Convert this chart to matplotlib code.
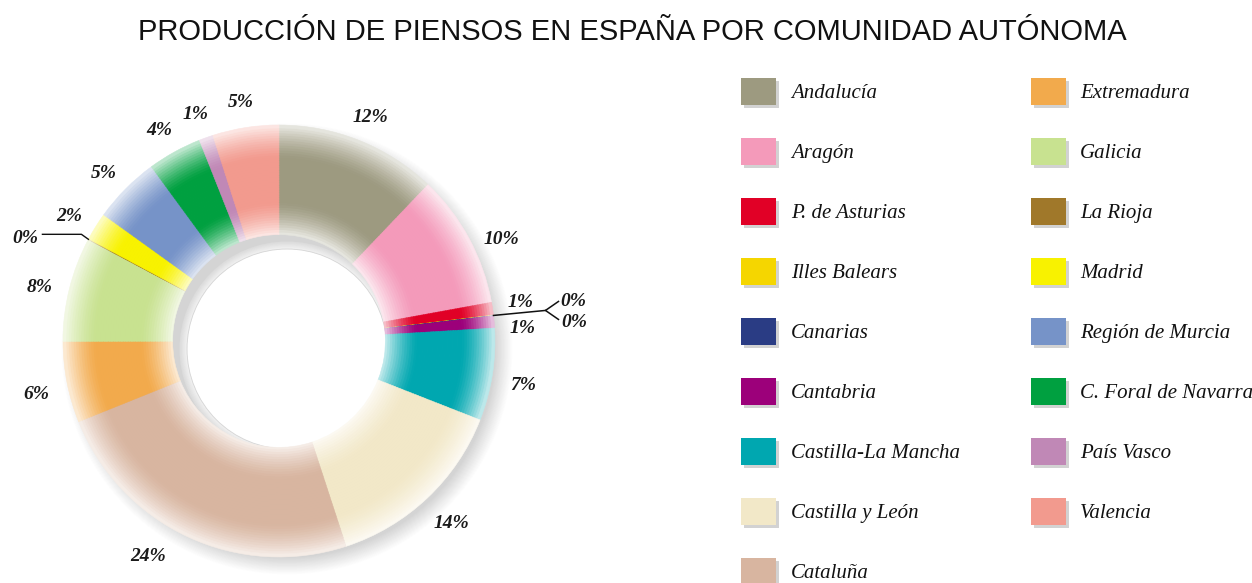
import matplotlib
matplotlib.use("Agg")
import matplotlib.pyplot as plt
from matplotlib.patches import Circle, Rectangle
from matplotlib.colors import to_rgb
import numpy as np

# ---------------- data ----------------
regions = ["Andalucía", "Aragón", "P. de Asturias", "Illes Balears", "Canarias",
           "Cantabria", "Castilla-La Mancha", "Castilla y León", "Cataluña",
           "Extremadura", "Galicia", "La Rioja", "Madrid", "Región de Murcia",
           "C. Foral de Navarra", "País Vasco", "Valencia"]
values = [12.1, 10.0, 0.95, 0.03, 0.03, 0.9, 6.9, 14.0, 23.9,
          6.05, 7.8, 0.05, 2.1, 5.0, 4.05, 1.05, 4.95]
pct_labels = ["12%", "10%", "1%", "0%", "0%", "1%", "7%", "14%", "24%",
              "6%", "8%", "0%", "2%", "5%", "4%", "1%", "5%"]
colors = ["#9d9a80", "#f49aba", "#e10026", "#f5d600", "#2a3c84", "#9c007a",
          "#00a7b0", "#f2e8c8", "#d8b5a0", "#f2aa4c", "#c8e290", "#a0782a",
          "#f8f200", "#7693c8", "#00a040", "#c088b6", "#f29a8e"]
title = "PRODUCCIÓN DE PIENSOS EN ESPAÑA POR COMUNIDAD AUTÓNOMA"

# ---------------- layout ----------------
W, H = 1252, 583
fig = plt.figure(figsize=(W / 100, H / 100), dpi=100)
ax = fig.add_axes([0, 0, 1, 1])

def py(y):  # pixel-from-top -> data y
    return H - y

cx, cy = 279, py(341)
R_out, R_in = 216, 107

# ---------------- shadow (painter's discs, outside-in) ----------------
scx, scy = cx + 8, cy - 8
for r in np.arange(226, 99, -0.75):
    if r <= 108:
        b = 0.955 - (r - 100) / 8 * 0.10
    elif r < 208:
        b = 0.83
    else:
        b = 0.83 + (r - 208) / 18 * 0.17
    b = min(max(b, 0.0), 1.0)
    ax.add_patch(Circle((scx, scy), r, facecolor=(b, b, b),
                        edgecolor="none", zorder=1))
ax.add_patch(Circle((scx, scy), 99.6, facecolor="white", edgecolor="none", zorder=1))
ax.add_patch(Circle((scx, scy), 100, facecolor="none", edgecolor="#d6d6d6",
                    lw=0.6, zorder=1))

# ---------------- gradient donut ----------------
def whiteness(t):
    w_in = max(0.0, 1 - t / 0.30) ** 1.4
    w_out = max(0.0, 1 - (1 - t) / 0.30) ** 1.4
    return 0.78 * max(w_in, w_out)

nr = 44
dr = (R_out - R_in) / nr
base = [np.array(to_rgb(c)) for c in colors]
for k in range(nr):
    t = (k + 0.5) / nr
    w = whiteness(t)
    cols = [tuple(c * (1 - w) + w) for c in base]
    rad = R_in + (k + 1) * dr
    wedges, _ = ax.pie(values, colors=cols, radius=rad, startangle=90,
                       counterclock=False, center=(cx, cy), frame=True,
                       wedgeprops=dict(width=dr + 0.6, linewidth=0.4))
    for wd in wedges:
        wd.set_edgecolor(wd.get_facecolor())
        wd.set_zorder(2)

# ---------------- percentage labels ----------------
total = sum(values)
cum = np.cumsum([0] + values)
lab_font = dict(family="Liberation Serif", weight="bold", style="italic",
                fontsize=14, color="#1a1a1a", zorder=5)

def pt(theta_deg, rad):
    th = np.radians(theta_deg)
    return cx + rad * np.sin(th), cy + rad * np.cos(th)

angle_tweak = {1: 2.5, 7: -1.0, 8: 7.0}
label_drop = 4
special = {2, 3, 4, 5, 11}
for i, lab in enumerate(pct_labels):
    if i in special:
        continue
    mid = 360 * (cum[i] + cum[i + 1]) / 2 / total + angle_tweak.get(i, 0.0)
    x, y = pt(mid, 247)
    ax.text(x, y - label_drop, lab, ha="center", va="center_baseline", **lab_font)

# east cluster (Asturias, Baleares, Canarias, Cantabria)
a_mid = 360 * (cum[3] + cum[5]) / 2 / total
ax0, ay0 = pt(a_mid, R_out)
ax.plot([ax0, ax0 + 52, ax0 + 65], [ay0, ay0 + 5, ay0 + 14], color="#111", lw=1.1, zorder=5)
ax.plot([ax0 + 52, ax0 + 65], [ay0 + 5, ay0 - 4], color="#111", lw=1.1, zorder=5)
ax.text(ax0 + 27, ay0 + 15, pct_labels[2], ha="center", va="center_baseline", **lab_font)
ax.text(ax0 + 29, ay0 - 11, pct_labels[5], ha="center", va="center_baseline", **lab_font)
ax.text(ax0 + 80, ay0 + 16, pct_labels[3], ha="center", va="center_baseline", **lab_font)
ax.text(ax0 + 81, ay0 - 5, pct_labels[4], ha="center", va="center_baseline", **lab_font)

# west (La Rioja)
r_mid = 360 * (cum[11] + cum[12]) / 2 / total
wx0, wy0 = pt(r_mid, R_out)
ax.plot([wx0, wx0 - 7, wx0 - 46], [wy0, wy0 + 5, wy0 + 5], color="#111", lw=1.0, zorder=5)
ax.text(wx0 - 63, wy0 + 3, pct_labels[11], ha="center", va="center_baseline", **lab_font)

# ---------------- legend ----------------
leg_font = dict(family="Liberation Serif", style="italic", fontsize=15, color="#111")
row0, row_step = 91.5, 59.95
cols_x = [(741, 791), (1031, 1080)]
for i, (name, col) in enumerate(zip(regions, colors)):
    c = 0 if i < 9 else 1
    row = i if i < 9 else i - 9
    sx, tx = cols_x[c]
    yc = row0 + row * row_step
    ax.add_patch(Rectangle((sx + 3, py(yc + 13.5) - 3), 35, 27,
                           facecolor="#d2d2d2", edgecolor="none", zorder=3))
    ax.add_patch(Rectangle((sx, py(yc + 13.5)), 35, 27,
                           facecolor=col, edgecolor="none", zorder=4))
    ax.text(tx, py(yc), name, ha="left", va="center_baseline", **leg_font)

# ---------------- title ----------------
ax.text(632, py(29), title, ha="center", va="center_baseline", family="Liberation Sans",
        fontsize=21, color="#111")

ax.set_xlim(0, W)
ax.set_ylim(0, H)
ax.set_aspect("equal")
ax.axis("off")
fig.savefig("out.png", dpi=100, facecolor="white")
